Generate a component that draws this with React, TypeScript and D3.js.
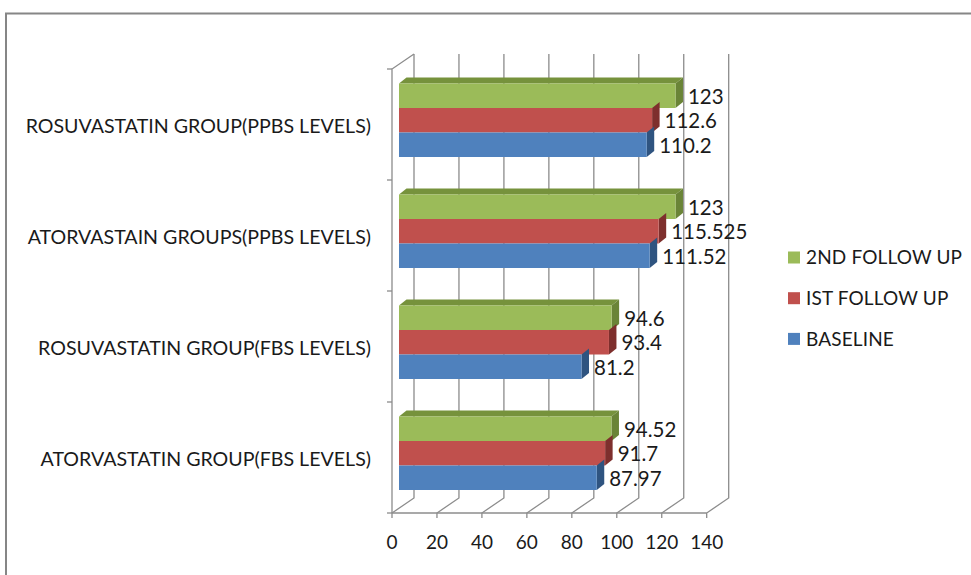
import React from "react";
import * as d3 from "d3";

// Categories run top to bottom as drawn on the vertical axis.
const categories = [
  "ROSUVASTATIN GROUP(PPBS LEVELS)",
  "ATORVASTAIN GROUPS(PPBS LEVELS)",
  "ROSUVASTATIN GROUP(FBS LEVELS)",
  "ATORVASTATIN GROUP(FBS LEVELS)",
];
const seriesNames = ["2ND FOLLOW UP", "IST FOLLOW UP", "BASELINE"];
const secondFollowUp = [123, 123, 94.6, 94.52];
const firstFollowUp = [112.6, 115.525, 93.4, 91.7];
const baseline = [110.2, 111.52, 81.2, 87.97];
const xTicks = [0, 20, 40, 60, 80, 100, 120, 140];

const seriesValues = [secondFollowUp, firstFollowUp, baseline];
const faceColors = ["#9BBB59", "#C0504D", "#4F81BD"];
const topColors = ["#76923C", "#943634", "#365F91"];
const sideColors = ["#6A8437", "#7E2F2D", "#2F5480"];

const FONT = "Lato, 'Open Sans', sans-serif";
const TEXT = "#1a1a1a";
const GRID = "#8c8c8c";

// Oblique offset between the front plane and the back wall.
const wallDx = 22;
const wallDy = -15;
// Bar depth in the same oblique projection.
const barDx = 7.5;
const barDy = -6;

const x = d3.scaleLinear().domain([0, 140]).range([392, 706.7]);
const y = d3.scaleBand().domain(categories).range([69, 513]);
const seriesBand = d3.scaleBand().domain(seriesNames).range([14.5, 88]);

export default function App() {
  const bottom = y.range()[1];
  const top = y.range()[0];
  const barX0 = x(0) + 7;

  return (
    <svg
      width={971}
      height={575}
      style={{ position: "absolute", left: 0, top: 0, background: "#fff" }}
    >
      {/* Outer frame: only the top and left edges fall inside the view */}
      <path d="M6,575V13.5H971" fill="none" stroke="#868686" strokeWidth={2} />

      {/* Back wall gridlines and floor diagonals */}
      {xTicks.map((t) => (
        <path
          key={t}
          d={`M${x(t)},${bottom + 5}V${bottom}l${wallDx},${wallDy}V${top + wallDy}`}
          fill="none"
          stroke={GRID}
          strokeWidth={1.3}
        />
      ))}

      {/* Left wall */}
      <path
        d={`M${x(0)},${bottom}V${top}l${wallDx},${wallDy}`}
        fill="none"
        stroke={GRID}
        strokeWidth={1.3}
      />
      {/* Floor front edge */}
      <path d={`M${x(0)},${bottom}H${x(140)}`} stroke={GRID} strokeWidth={1.3} />

      {/* Category ticks */}
      {[...categories.map((c) => y(c)!), bottom].map((v) => (
        <path key={v} d={`M${x(0) - 5},${v}H${x(0)}`} stroke={GRID} strokeWidth={1.3} />
      ))}

      {/* Bars: the stacked block shows a single top face on its first series */}
      {categories.map((c, ci) =>
        seriesNames.map((s, si) => {
          const v = seriesValues[si][ci];
          const y0 = y(c)! + seriesBand(s)!;
          const h = seriesBand.bandwidth();
          const xEnd = barX0 + x(v) - x(0);
          return (
            <g key={s}>
              {si === 0 && (
                <path
                  d={`M${barX0},${y0}l${barDx},${barDy}H${xEnd + barDx}l${-barDx},${-barDy}Z`}
                  fill={topColors[si]}
                />
              )}
              <path
                d={`M${xEnd},${y0}l${barDx},${barDy}v${h}l${-barDx},${-barDy}Z`}
                fill={sideColors[si]}
              />
              <rect x={barX0} y={y0} width={xEnd - barX0} height={h} fill={faceColors[si]} />
              <text
                x={xEnd + 12.5}
                y={y0 + h / 2 + 3}
                dominantBaseline="middle"
                fontFamily={FONT}
                fontSize={20.5}
                fill={TEXT}
              >
                {v}
              </text>
            </g>
          );
        })
      )}

      {/* Category labels */}
      {categories.map((c) => (
        <text
          key={c}
          x={371}
          y={y(c)! + y.bandwidth() / 2 + 3.5}
          textAnchor="end"
          dominantBaseline="middle"
          fontFamily={FONT}
          fontSize={19.6}
          fill={TEXT}
        >
          {c}
        </text>
      ))}

      {/* Value axis labels */}
      {xTicks.map((t) => (
        <text
          key={t}
          x={x(t)}
          y={544}
          textAnchor="middle"
          dominantBaseline="middle"
          fontFamily={FONT}
          fontSize={19}
          fill={TEXT}
        >
          {t}
        </text>
      ))}

      {/* Legend */}
      {seriesNames.map((s, i) => (
        <g key={s} transform={`translate(788,${251.5 + i * 40.7})`}>
          <rect width={12} height={12} fill={faceColors[i]} />
          <text
            x={18}
            y={8}
            dominantBaseline="middle"
            fontFamily={FONT}
            fontSize={19}
            letterSpacing={0.15}
            fill={TEXT}
          >
            {s}
          </text>
        </g>
      ))}
    </svg>
  );
}
